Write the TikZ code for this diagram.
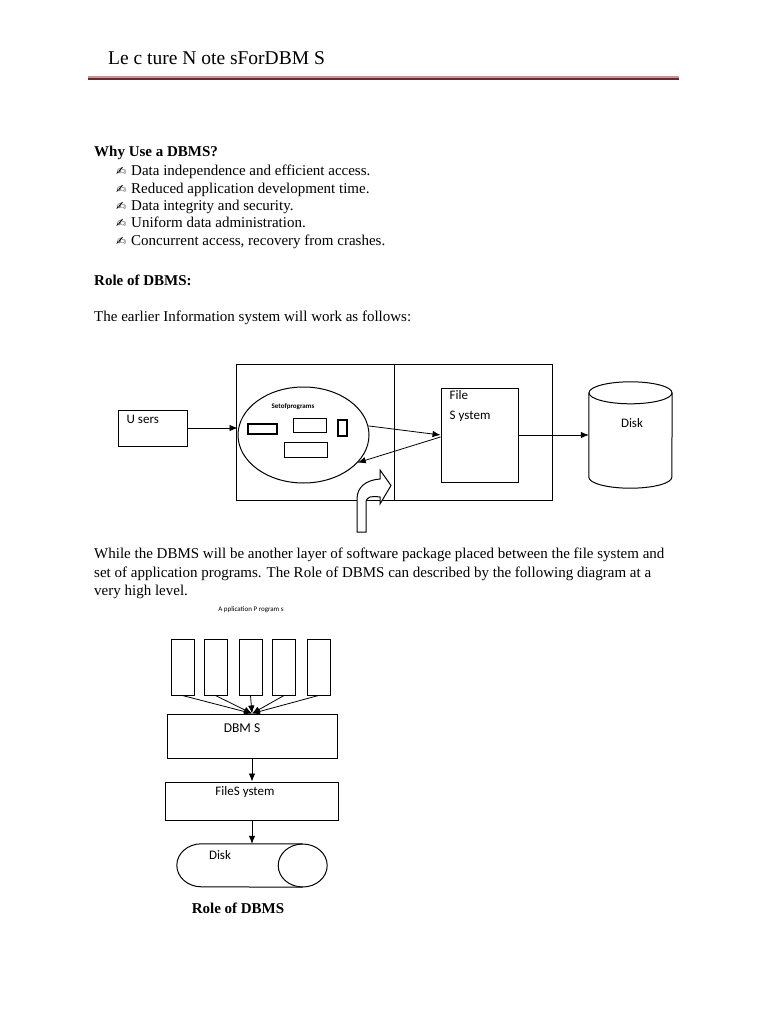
\documentclass[tikz,border=0pt]{standalone}
\usepackage{fontspec}
\setmainfont{Liberation Serif}
\newfontfamily\diafont{Carlito}
\newfontfamily\symfont{DejaVu Sans}
\usetikzlibrary{shapes.geometric, arrows.meta, calc}
\definecolor{rulelight}{RGB}{196,150,150}
\definecolor{ruledark}{RGB}{105,40,45}

\begin{document}
\begin{tikzpicture}[x=1pt, y=-1pt,
    txt/.style={anchor=base west, inner sep=0pt, font=\fontsize{15}{17}\selectfont},
    box/.style={draw, line width=1pt, inner sep=0pt},
    lbl/.style={inner sep=0pt, font=\diafont\fontsize{13}{20}\selectfont},
    tiny/.style={inner sep=0pt, font=\diafont\bfseries\fontsize{7}{8}\selectfont},
    arrow/.style={-{Latex[length=8pt,width=6.5pt]}, line width=0.8pt}
]
    \useasboundingbox (0,0) rectangle (768,1024);

    % page header
    \node[anchor=base west, inner sep=0pt, font=\fontsize{19.5}{20}\selectfont] (title) at (108,65) {Le c ture N ote sForDBM S};
    \draw[rulelight, line width=3.5pt] (88,78) -- (679,78);
    \draw[ruledark, line width=1.1pt] (88,79) -- (679,79);

    % text
    \node[txt] (why) at (94,157) {\textbf{Why Use a DBMS?}};
    \foreach \t [count=\i] in {Data independence and efficient access.,
        Reduced application development time.,
        Data integrity and security.,
        Uniform data administration.,
        {Concurrent access, recovery from crashes.}} {
        \node[txt, font=\symfont\fontsize{12}{12}\selectfont] (m\i) at (116,{176+17.3*(\i-1)}) {✍};
        \node[txt] (b\i) at (131,{176+17.3*(\i-1)}) {\t};
    }
    \node[txt] (role) at (94,285) {\textbf{Role of DBMS:}};
    \node[txt] (earlier) at (94,321) {The earlier Information system will work as follows:};

    % old information system
    \node[box, minimum width=69pt, minimum height=36pt] (users) at (152.5,428) {};
    \node[lbl, anchor=north west] (userstext) at ($(users.north west)+(9,5)$) {U sers};
    \node[box, minimum width=316pt, minimum height=136pt] (sys) at (394,432) {};
    \draw[line width=1pt] (sys.north) -- (sys.south);
    \node[draw, ellipse, line width=1pt, minimum width=131pt, minimum height=96pt] (progs) at (303.5,435) {};
    \node[tiny] (progstext) at (293,407) {Setofprograms};
    \node[box, line width=1.6pt, minimum width=29pt, minimum height=10pt] (p1) at (262.5,429) {};
    \node[box, minimum width=33pt, minimum height=14pt] (p2) at (309.5,425) {};
    \node[box, line width=1.4pt, minimum width=9pt, minimum height=16pt] (p3) at (342.5,428) {};
    \node[box, minimum width=43pt, minimum height=15pt] (p4) at (305.5,449.5) {};
    \node[box, minimum width=77pt, minimum height=94pt] (fs) at (479.5,435) {};
    \node[lbl, anchor=north west, align=left] (fstext) at ($(fs.north west)+(9,3)$) {File\\S ystem};
    % disk drawn as cylinder round an empty node
    \node[inner sep=0pt, minimum width=83pt, minimum height=106pt] (disk) at (630.5,435) {};
    \draw[line width=1pt] ($(disk.north west)+(0,11)$) -- ($(disk.south west)+(0,-11)$)
        arc[start angle=180, end angle=0, x radius=41.5, y radius=11]
        -- ($(disk.north east)+(0,11)$);
    \draw[line width=1pt] ($(disk.north)+(0,11)$) ellipse[x radius=41.5, y radius=11];
    \node[lbl] (disktext) at (632,423) {Disk};

    \draw[arrow] (users.east) -- (users.east -| progs.west);
    \draw[arrow] (progs.8) -- (fs.west);
    \draw[arrow] ($(fs.west)+(0,2)$) -- (progs.-27);
    \draw[arrow] (fs.east) -- (fs.east -| disk.west);
    % bent arrow
    \draw[line width=1pt, fill=white] (357,532) -- (357,499)
        .. controls (357,487) and (366,480) .. (380,479) -- (380,470) -- (391,485.5)
        -- (380,504) -- (380,497) .. controls (372,496) and (366,496) .. (366,503)
        -- (366,532) -- cycle;

    % text
    \node[txt] (para1) at (94,558) {While the DBMS will be another layer of software package placed between the file system and};
    \node[txt] (para2) at (94,577) {set of application programs. The Role of DBMS can described by the following diagram at a};
    \node[txt] (para3) at (94,595) {very high level.};

    % role of DBMS
    \node[tiny, font=\diafont\fontsize{7}{8}\selectfont] (apptitle) at (251,610) {A pplication P rogram s};
    \node[box, minimum width=170pt, minimum height=44pt] (dbms) at (252,736) {};
    \node[lbl, font=\diafont\fontsize{13.5}{15}\selectfont] (dbmstext) at (242,728) {DBM S};
    \foreach \x [count=\i] in {182.5, 215.5, 250.5, 284, 318.5} {
        \node[box, minimum width=23pt, minimum height=56pt] (app\i) at (\x,667) {};
        \draw[arrow] (app\i.south) -- (dbms.north);
    }
    \node[box, minimum width=173pt, minimum height=38pt] (fs2) at (252,801) {};
    \node[lbl] (fs2text) at (245,792) {FileS ystem};
    \node[inner sep=0pt, minimum width=150pt, minimum height=43pt] (disk2) at (252,865.5) {};
    \draw[line width=1pt] ($(disk2.north east)+(-24.5,0)$) -- ($(disk2.north west)+(24.5,0)$)
        arc[start angle=270, end angle=90, x radius=24.5, y radius=21.5]
        -- ($(disk2.south east)+(-24.5,0)$);
    \draw[line width=1pt] ($(disk2.east)+(-24.5,0)$) ellipse[x radius=24.5, y radius=21.5];
    \node[lbl] (disk2text) at (220,855) {Disk};
    \draw[arrow] (dbms.south) -- (fs2.north);
    \draw[arrow] (fs2.south) -- (disk2.north);
    \node[txt, anchor=base] (caption) at (238,913) {\textbf{Role of DBMS}};
\end{tikzpicture}
\end{document}
